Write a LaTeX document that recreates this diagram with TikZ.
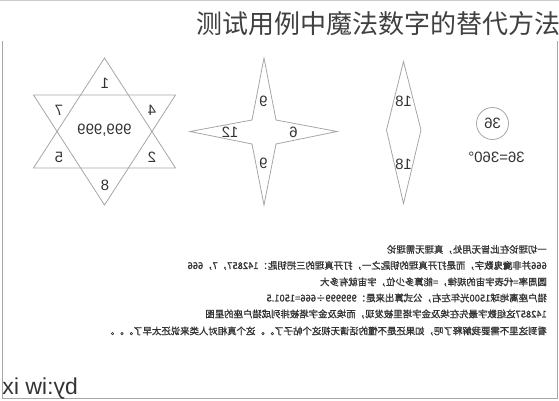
\documentclass[tikz,border=0pt]{standalone}
\usepackage{fontspec}
\setmainfont{Liberation Sans}
\newfontfamily\cjk{Noto Sans CJK SC}
\newfontfamily\cjkbold{Noto Sans CJK SC}[FakeBold=1.2]
\usetikzlibrary{positioning}

\tikzset{
  shapeline/.style={draw=black!35, line width=0.8pt, line join=miter},
  mirror/.style={xscale=-1},
  num/.style={mirror, font=\fontsize{15}{15}\selectfont, text=black!80, inner sep=0pt},
  note/.style={mirror, anchor=west, inner sep=0pt, text=black!80,
    font=\cjkbold\fontsize{9.4}{9.4}\selectfont},
}

\begin{document}
\begin{tikzpicture}[x=1pt, y=-1pt]
  \useasboundingbox (0,0) rectangle (559,400);

  % frame and title
  \draw[black!20, line width=0.8pt] (0,0.5) -- (559,0.5);
  \draw[black!35, line width=1pt] (2,41) -- (2,398) -- (557,398) -- (557,41);
  \node[anchor=west, inner sep=0pt, text=black!75, font=\cjk\fontsize{26}{26}\selectfont]
    (title) at (196,24) {测试用例中魔法数字的替代方法};

  % hexagram
  \coordinate (U1) at (104.5,58);
  \coordinate (U2) at (33.5,168);
  \coordinate (U3) at (175.5,168);
  \coordinate (D1) at (33.5,95);
  \coordinate (D2) at (175.5,95);
  \coordinate (D3) at (104.5,205);
  \draw[shapeline] (U1) -- (U2) -- (U3) -- cycle;
  \draw[shapeline] (D1) -- (D2) -- (D3) -- cycle;
  \node[num] (h1) at (105,83) {1};
  \node[num] (h7) at (59,110) {7};
  \node[num] (h4) at (152,110) {4};
  \node[num] (hc) at (104.5,130) {999,999};
  \node[num] (h5) at (59,157) {5};
  \node[num] (h2) at (152,157) {2};
  \node[num] (h8) at (105,185) {8};

  % four-point star
  \coordinate (ST) at (264,58);
  \coordinate (SR) at (337,131.5);
  \coordinate (SB) at (264,205);
  \coordinate (SL) at (190,131.5);
  \coordinate (I1) at (276,120);
  \coordinate (I2) at (276,144);
  \coordinate (I3) at (252,144);
  \coordinate (I4) at (252,120);
  \draw[shapeline] (ST) -- (I1) -- (SR) -- (I2) -- (SB) -- (I3) -- (SL) -- (I4) -- cycle;
  \node[num] (s1) at (263.5,101.5) {9};
  \node[num] (s2) at (293.5,132.5) {6};
  \node[num] (s3) at (263.5,163.5) {9};
  \node[num] (s4) at (230,132.5) {12};

  % diamond
  \coordinate (RT) at (403.5,61.5);
  \coordinate (RR) at (421,130);
  \coordinate (RB) at (403.5,203.5);
  \coordinate (RL) at (386.5,130);
  \draw[shapeline] (RT) -- (RR) -- (RB) -- (RL) -- cycle;
  \node[num] (r1) at (403.5,101.5) {18};
  \node[num] (r2) at (403.5,164.5) {18};

  % circle
  \node[num, circle, shapeline, minimum size=32pt] (c36) at (492.5,123.5) {36};
  \node[num] (deg) at (496.5,157.5) {36=360°};

  % notes
  \node[note] (n1) at (547,249.5) {一切理论在此皆无用处，真理无需理论};
  \node[note] (n2) at (547,265.5) {666并非魔鬼数字，而是打开真理的钥匙之一，打开真理的三把钥匙：142857，7，666};
  \node[note] (n3) at (547,282) {圆周率=代表宇宙的规律，=能算多少位，宇宙就有多大};
  \node[note] (n4) at (547,298) {猎户座离地球1500光年左右，公式算出来是：999999÷666=1501.5};
  \node[note] (n5) at (547,314) {142857这组数字最先在埃及金字塔里被发现，而埃及金字塔被排列成猎户座的星图};
  \node[note] (n6) at (547,331) {看到这里不需要我解释了吧，如果还是不懂的话请无视这个帖子了。。这个真相对人类来说还太早了。。。};

  \node[mirror, anchor=base west, inner sep=0pt, text=black!80, font=\fontsize{23}{23}\selectfont]
    (sig) at (78,394) {by:iw ix};
\end{tikzpicture}
\end{document}
